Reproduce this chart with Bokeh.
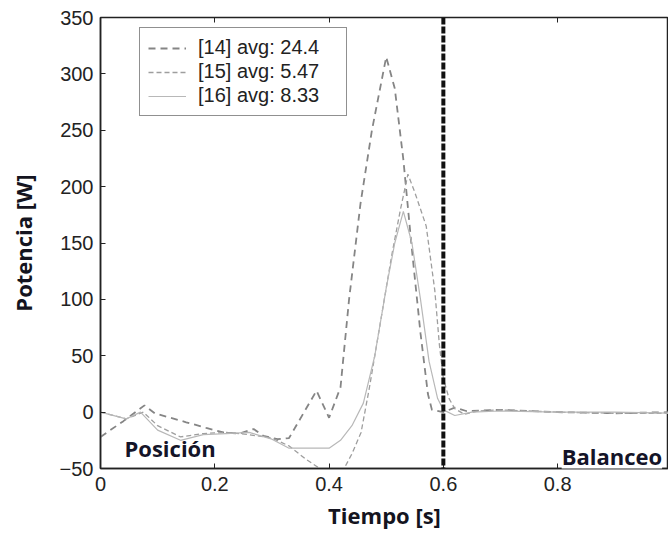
from bokeh.plotting import figure
from bokeh.models import Legend, LegendItem, Label, Span, LinearAxis, FixedTicker
from bokeh.embed import file_html
from bokeh.resources import INLINE

# ---- data ----
t14 = [0.0, 0.04, 0.077, 0.095, 0.15, 0.185, 0.215, 0.243, 0.268, 0.285, 0.31, 0.33,
       0.378, 0.40, 0.42, 0.435, 0.455, 0.475, 0.50, 0.515, 0.53, 0.545, 0.56, 0.573,
       0.58, 0.60, 0.62, 0.64, 0.70, 0.80, 0.90, 1.0]
p14 = [-22, -8, 6, -1, -9, -14, -18, -19, -15, -21, -24, -23,
       19, -5, 22, 100, 185, 250, 315, 287, 224, 144, 70, 16,
       2, 0, 4, 1, 2, 0, -1, 0]

t15 = [0.0, 0.045, 0.075, 0.10, 0.14, 0.18, 0.22, 0.26, 0.30, 0.33, 0.36, 0.39,
       0.42, 0.44, 0.456, 0.47, 0.49, 0.51, 0.525, 0.538, 0.55, 0.57, 0.585, 0.593,
       0.60, 0.61, 0.62, 0.637, 0.66, 0.70, 0.80, 0.90, 1.0]
p15 = [0, -6, 0, -12, -22, -19, -18, -20, -23, -30, -42, -52,
       -56, -37, -18, 20, 80, 140, 180, 211, 195, 165, 108, 60,
       30, 12, 3, -2, 1, 2, 0, -1, -1]

t16 = [0.0, 0.045, 0.07, 0.10, 0.14, 0.18, 0.22, 0.26, 0.30, 0.33, 0.36, 0.40,
       0.42, 0.44, 0.46, 0.48, 0.50, 0.515, 0.53, 0.545, 0.56, 0.575, 0.59, 0.60,
       0.62, 0.65, 0.70, 0.80, 0.90, 1.0]
p16 = [0, -6, 0, -16, -25, -20, -19, -18, -24, -32, -32, -32,
       -25, -12, 8, 50, 110, 150, 178, 150, 100, 45, 12, 2,
       -3, 0, 1, 0, 0, -1]

labels = ["[14] avg: 24.4", "[15] avg: 5.47", "[16] avg: 8.33"]
x_ticks = [0, 0.2, 0.4, 0.6, 0.8, 1.0]
y_ticks = [-50, 0, 50, 100, 150, 200, 250, 300, 350]
phase_split = 0.6

TICK_FONT = "Liberation Sans"
LABEL_FONT = "Open Sans"

p = figure(width=668, height=534, x_range=(0, 0.994), y_range=(-50, 350),
           output_backend="svg", toolbar_location=None,
           min_border_left=100, min_border_top=17, min_border_right=0,
           min_border_bottom=66)
p.grid.visible = False
p.background_fill_color = "white"
p.outline_line_color = "#222222"
p.outline_line_width = 1.5

r14 = p.line(t14, p14, line_color="#858585", line_width=1.8, line_dash="7 5")
r15 = p.line(t15, p15, line_color="#9e9e9e", line_width=1.3, line_dash="5 3")
r16 = p.line(t16, p16, line_color="#b8b8b8", line_width=1.2)

p.add_layout(Span(location=phase_split, dimension="height", line_color="#111111",
                  line_width=4, line_dash="7 2"))

for ax in (p.xaxis[0], p.yaxis[0]):
    ax.major_tick_in = 5
    ax.major_tick_out = 0
    ax.minor_tick_line_color = None
    ax.axis_line_color = "#222222"
    ax.axis_line_width = 1.5
    ax.major_tick_line_color = "#222222"
    ax.major_label_text_font = TICK_FONT
    ax.major_label_text_font_size = "20px"
    ax.major_label_text_color = "#222222"
    ax.axis_label_text_font = LABEL_FONT
    ax.axis_label_text_font_size = "22px"
    ax.axis_label_text_font_style = "bold"
    ax.axis_label_text_color = "#141420"

p.xaxis.ticker = FixedTicker(ticks=x_ticks)
p.yaxis.ticker = FixedTicker(ticks=y_ticks)
p.xaxis.major_label_standoff = 8
p.yaxis.major_label_standoff = 7
p.xaxis.axis_label = "Tiempo [s]"
p.yaxis.axis_label = "Potencia [W]"
p.xaxis.axis_label_standoff = 6
p.yaxis.axis_label_standoff = 19

top = LinearAxis(ticker=FixedTicker(ticks=x_ticks),
                 major_label_overrides={t: "" for t in x_ticks},
                 major_tick_in=5, major_tick_out=0, minor_tick_line_color=None,
                 axis_line_color=None, major_tick_line_color="#222222")
p.add_layout(top, "above")

p.add_layout(Label(x=0.042, y=-32, text="Posición", text_font=LABEL_FONT,
                   text_font_size="22px", text_font_style="bold",
                   text_color="#141428", text_baseline="middle"))
p.add_layout(Label(x=0.807, y=-38.5, text="Balanceo", text_font=LABEL_FONT,
                   text_font_size="22px", text_font_style="bold",
                   text_color="#141428", text_baseline="middle",
                   background_fill_color="white"))

legend = Legend(items=[LegendItem(label=labels[0], renderers=[r14]),
                       LegendItem(label=labels[1], renderers=[r15]),
                       LegendItem(label=labels[2], renderers=[r16])],
                location=(39, 352), margin=0, padding=8, spacing=1,
                glyph_width=38, glyph_height=20, label_height=20,
                label_standoff=12, label_width=140,
                label_text_font=TICK_FONT, label_text_font_size="20px",
                label_text_color="#222222", border_line_color="#222222",
                border_line_width=1.5, background_fill_color="white",
                background_fill_alpha=1.0)
p.add_layout(legend)

open("out.html", "w").write(file_html(p, INLINE))
